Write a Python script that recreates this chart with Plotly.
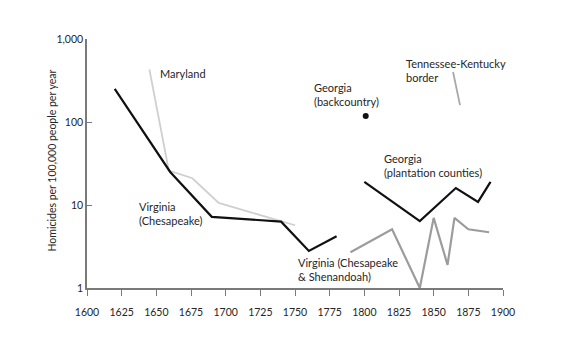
import plotly.graph_objects as go

# Homicide rates (per 100,000 people per year) by region
va_ches_years = [1620, 1660, 1690, 1740, 1760, 1780]
va_ches_rates = [250, 25, 7.2, 6.3, 2.8, 4.2]

maryland_years = [1645, 1659, 1676, 1695, 1750]
maryland_rates = [430, 26, 21, 10.6, 5.7]

va_shen_years = [1790, 1820, 1840, 1850, 1860, 1865, 1875, 1890]
va_shen_rates = [2.7, 5.1, 1.0, 7.0, 1.9, 7.0, 5.1, 4.7]

ga_plant_years = [1800, 1840, 1866, 1882, 1891]
ga_plant_rates = [19, 6.4, 16, 10.9, 19]

ga_back_years = [1801]
ga_back_rates = [118]

tn_ky_years = [1864, 1869]
tn_ky_rates = [400, 160]

x_ticks = list(range(1600, 1901, 25))
y_ticks = [1, 10, 100, 1000]
y_tick_text = ["1", "10", "100", "1,000"]

FONT = "Lato"
TEXT = "#262626"
AXIS = "#7a7a7a"

fig = go.Figure()

fig.add_trace(go.Scatter(x=maryland_years, y=maryland_rates, mode="lines",
                         line=dict(color="#cfcfcf", width=1.8)))
fig.add_trace(go.Scatter(x=va_ches_years, y=va_ches_rates, mode="lines",
                         line=dict(color="#111111", width=2.2)))
fig.add_trace(go.Scatter(x=va_shen_years, y=va_shen_rates, mode="lines",
                         line=dict(color="#9c9c9c", width=2.2)))
fig.add_trace(go.Scatter(x=ga_plant_years, y=ga_plant_rates, mode="lines",
                         line=dict(color="#111111", width=2.2)))
fig.add_trace(go.Scatter(x=ga_back_years, y=ga_back_rates, mode="markers",
                         marker=dict(color="#111111", size=6)))
fig.add_trace(go.Scatter(x=tn_ky_years, y=tn_ky_rates, mode="lines",
                         line=dict(color="#a8a8a8", width=1.8)))

labels = [
    (1651, 2.59, "Maryland"),
    (1636, 0.90, "Virginia<br>(Chesapeake)"),
    (1762, 2.33, "Georgia<br>(backcountry)"),
    (1828.5, 2.62, "Tennessee-Kentucky<br>border"),
    (1812.7, 1.476, "Georgia<br>(plantation counties)"),
    (1750.7, 0.223, "Virginia (Chesapeake<br>&amp; Shenandoah)"),
]
for lx, ly, txt in labels:
    fig.add_annotation(x=lx, y=ly, xref="x", yref="y", text=txt,
                       showarrow=False, xanchor="left", yanchor="middle",
                       align="left", font=dict(family=FONT, size=11, color=TEXT))

# vertical axis title
fig.add_annotation(x=0, y=0.5, xref="paper", yref="paper", xshift=-36, yshift=3,
                   text="Homicides per 100,000 people per year", textangle=-90,
                   showarrow=False, xanchor="center", yanchor="middle",
                   font=dict(family=FONT, size=10.5, color=TEXT))

fig.update_layout(
    width=582, height=343,
    margin=dict(l=87, r=79, t=39, b=55),
    paper_bgcolor="white", plot_bgcolor="white",
    showlegend=False,
    font=dict(family=FONT, size=10, color=TEXT),
)
fig.update_xaxes(
    range=[1600, 1900], tickvals=x_ticks, showgrid=False, zeroline=False,
    showline=True, linecolor=AXIS, linewidth=1.5, color=TEXT,
    ticks="outside", ticklen=6, tickcolor=AXIS, tickwidth=1.2,
    ticklabelstandoff=8,
    tickfont=dict(family=FONT, size=10.5, color=TEXT),
)
fig.update_yaxes(
    type="log", range=[0, 3], tickvals=y_ticks, ticktext=y_tick_text,
    showgrid=False, zeroline=False, color=TEXT,
    showline=True, linecolor=AXIS, linewidth=1.5,
    ticks="inside", ticklen=5, tickcolor=AXIS, tickwidth=1.2,
    tickfont=dict(family=FONT, size=10.5, color=TEXT),
)

fig.write_html("out.html")
